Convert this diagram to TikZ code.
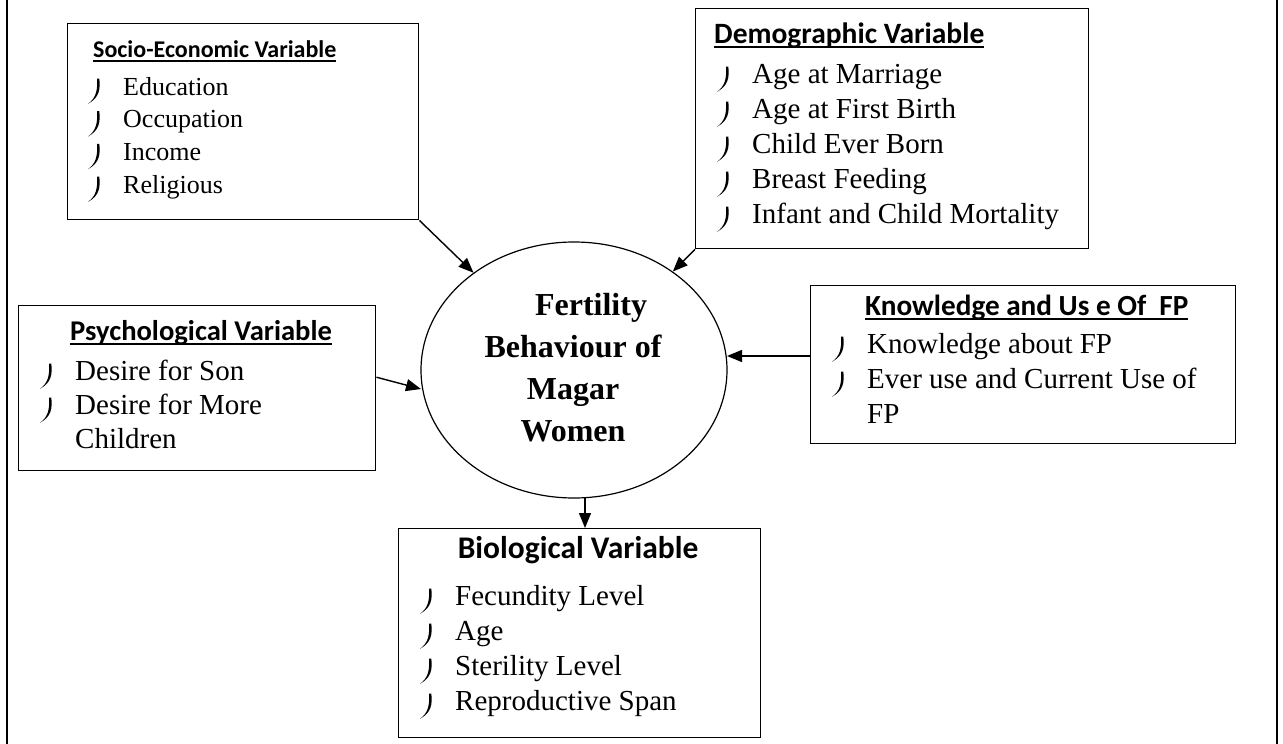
\documentclass[tikz,border=0pt]{standalone}
\usepackage{fontspec}
\setmainfont{Liberation Serif}
\newfontfamily\hdfont{Carlito}
\usetikzlibrary{arrows.meta,shapes.geometric}
\newcommand\bsp{\makebox[35pt][l]{}}
\newcommand\ulx[2]{{\hdfont\bfseries\fontsize{#1}{#1}\selectfont\setbox0\hbox{#2}\rlap{\rule[-5pt]{\wd0}{1.6pt}}\box0}}
\newcommand\hdx[2]{{\hdfont\bfseries\fontsize{#1}{#1}\selectfont #2}}
\begin{document}
\begin{tikzpicture}[x=1pt,y=-1pt,
  box/.style={draw,line width=1.4pt,inner sep=0pt,anchor=north west},
  arr/.style={line width=1.4pt,-{Triangle[length=15pt,width=12pt]}},
  txt/.style={inner sep=0pt,anchor=base west},
  jb/.pic={\fill (11.3,-16.5) .. controls (12.4,-6) and (11.6,2.5) .. (0,8.8)
                 .. controls (8.4,2.8) and (9.5,-5) .. (9.2,-16.5) -- cycle;},
]
\useasboundingbox (0,0) rectangle (1283,744);
\draw[line width=2pt] (6.5,0) -- (6.5,744);
\draw[line width=2pt] (1277,0) -- (1277,744);

% boxes
\node[box,minimum width=351pt,minimum height=196pt] (se) at (67,23) {};
\node[box,minimum width=393pt,minimum height=240pt] (dm) at (695,8) {};
\node[box,minimum width=357pt,minimum height=165pt] (ps) at (18,305) {};
\node[box,minimum width=425pt,minimum height=158pt] (kn) at (810,285) {};
\node[box,minimum width=362pt,minimum height=209pt] (bio) at (398,528) {};
\node[draw,ellipse,line width=1.2pt,minimum width=306pt,minimum height=256pt,inner sep=0pt] (el) at (574,370) {};

% headings
\node[txt] (seh) at (93,57) {\ulx{24}{Socio-Economic Variable}};
\node[txt] (dmh) at (714,43) {\ulx{29.5}{Demographic Variable}};
\node[txt] (psh) at (70,340) {\ulx{28.6}{Psychological Variable}};
\node[txt] (knh) at (865,315) {\ulx{29.2}{Knowledge and Us e Of\ \ FP}};
\node[inner sep=0pt,anchor=base] (bioh) at (578,558) {\hdx{31.5}{Biological Variable}};

% lists
\node[txt] (sel) at (88,95) {\fontsize{26}{32.7}\selectfont
  \begin{tabular}[t]{@{}l@{}l@{}}
  \bsp & Education\\ \bsp & Occupation\\ \bsp & Income\\ \bsp & Religious
  \end{tabular}};
\node[txt] (dml) at (717,83) {\fontsize{29}{35}\selectfont
  \begin{tabular}[t]{@{}l@{}l@{}}
  \bsp & Age at Marriage\\ \bsp & Age at First Birth\\ \bsp & Child Ever Born\\
  \bsp & Breast Feeding\\ \bsp & Infant and Child Mortality
  \end{tabular}};
\node[txt] (psl) at (40,380) {\fontsize{29}{34}\selectfont
  \begin{tabular}[t]{@{}l@{}l@{}}
  \bsp & Desire for Son\\ \bsp & Desire for More\\ \bsp & Children
  \end{tabular}};
\node[txt] (knl) at (832,353) {\fontsize{29}{35}\selectfont
  \begin{tabular}[t]{@{}l@{}l@{}}
  \bsp & Knowledge about FP\\ \bsp & Ever use and Current Use of\\ \bsp & FP
  \end{tabular}};
\node[txt] (biol) at (420,605) {\fontsize{29}{35}\selectfont
  \begin{tabular}[t]{@{}l@{}l@{}}
  \bsp & Fecundity Level\\ \bsp & Age\\ \bsp & Sterility Level\\ \bsp & Reproductive Span
  \end{tabular}};

% bullets
\foreach \y in {95,127.7,160.4,193.1} \pic at (88,\y) {jb};
\foreach \y in {83,118,153,188,223} \pic at (717,\y) {jb};
\foreach \y in {380,414} \pic at (40,\y) {jb};
\foreach \y in {353,388} \pic at (832,\y) {jb};
\foreach \y in {605,640,675,710} \pic at (420,\y) {jb};

% ellipse text
\node[inner sep=0pt,anchor=base] (elt) at (573,315) {\bfseries\fontsize{32}{42}\selectfont
  \begin{tabular}[t]{@{}c@{}}
  \hspace*{36pt}Fertility\\ Behaviour of\\ Magar\\ Women
  \end{tabular}};

% connectors
\coordinate (pst) at (421,389);
\coordinate (knt) at (727,356);
\coordinate (elb) at (585,498);
\draw[arr] (se.south east) -- (el);
\draw[arr] (dm.south west) -- (el);
\draw[arr] ([yshift=11pt]ps.east) -- (pst);
\draw[arr] (kn.west |- knt) -- (knt);
\draw[arr] (elb) -- (bio.north -| elb);
\end{tikzpicture}
\end{document}
